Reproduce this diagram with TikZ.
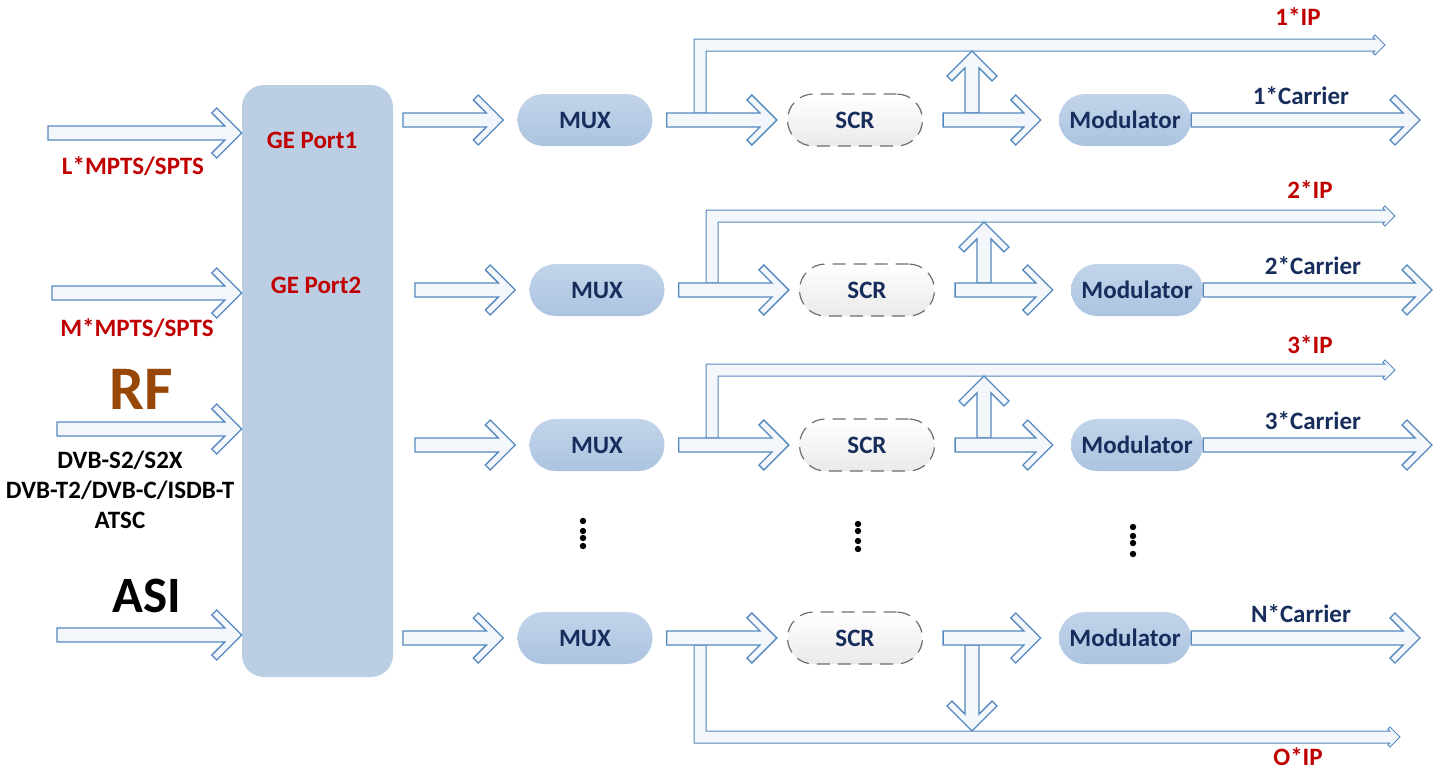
\documentclass[tikz,border=0pt]{standalone}
\usepackage{fontspec}
\setmainfont{Carlito}
\usetikzlibrary{calc}

\definecolor{arredge}{RGB}{84,136,190}
\definecolor{arrfill}{RGB}{243,247,252}
\definecolor{geblue}{RGB}{187,206,228}
\definecolor{muxtop}{RGB}{194,212,234}
\definecolor{muxbot}{RGB}{172,196,224}
\definecolor{scredge}{RGB}{110,110,110}
\definecolor{scrbot}{RGB}{234,234,234}
\definecolor{lblred}{RGB}{192,0,0}
\definecolor{navytxt}{RGB}{23,45,92}
\definecolor{rfbrown}{RGB}{152,72,6}

\newcommand{\boxfont}{\bfseries\fontsize{25}{29}\selectfont}
% one corner of a fat arrow: along, across
\newcommand{\fatpt}[2]{({\x1+(#1)*\n1-(#2)*\n2},{\y1+(#1)*\n2+(#2)*\n1})}

\tikzset{
  fat/.style={draw=arredge, fill=arrfill, line width=1.3pt,
    to path={let \p1=(\tikztostart), \p2=(\tikztotarget),
      \n3={veclen(\x2-\x1,\y2-\y1)}, \n1={(\x2-\x1)/\n3}, \n2={(\y2-\y1)/\n3} in
      \fatpt{0}{7} -- \fatpt{\n3-16.9}{7} -- \fatpt{\n3-29.95}{20.05} -- \fatpt{\n3-25}{25}
      -- \fatpt{\n3}{0} -- \fatpt{\n3-25}{-25} -- \fatpt{\n3-29.95}{-20.05}
      -- \fatpt{\n3-16.9}{-7} -- \fatpt{0}{-7} -- cycle}},
  ipband/.style={draw=arredge, fill=arrfill, line width=1pt,
    to path={let \p1=(\tikztostart), \p2=(\tikztotarget), \n1={(\y2>\y1) ? 1 : -1} in
      ({\x1-6},\y1) -- ({\x1-6},{\y2+(\n1)*6}) -- ({\x2-10.24},{\y2+(\n1)*6})
      -- ({\x2-12.12},{\y2+(\n1)*7.88}) -- ({\x2-10},{\y2+(\n1)*10}) -- (\x2,\y2)
      -- ({\x2-10},{\y2-(\n1)*10}) -- ({\x2-12.12},{\y2-(\n1)*7.88})
      -- ({\x2-10.24},{\y2-(\n1)*6}) -- ({\x1+6},{\y2-(\n1)*6}) -- ({\x1+6},\y1) -- cycle}},
  pill/.style={rectangle, rounded corners=26pt, minimum width=135pt, minimum height=52pt,
    inner sep=0pt, text=navytxt, font=\boxfont},
  muxbox/.style={pill, top color=muxtop, bottom color=muxbot},
  scrbox/.style={pill, draw=scredge, line width=1.2pt, dash pattern=on 13pt off 8pt,
    top color=white, bottom color=scrbot},
  redlbl/.style={text=lblred, font=\boxfont},
  navylbl/.style={text=navytxt, font=\boxfont},
}

\begin{document}
\begin{tikzpicture}[x=1pt,y=-1pt]
\useasboundingbox (0,0) rectangle (1440,771);

% GE ports
\node[fill=geblue, rounded corners=22pt, minimum width=151pt, minimum height=592pt] (ge) at (317.5,381) {};
\node[redlbl] (port1) at (312,140) {GE Port1};
\node[redlbl] (port2) at (316,285) {GE Port2};

% inputs
\coordinate (src1) at (48,133);
\coordinate (src2) at (52,293);
\coordinate (src3) at (57,429);
\coordinate (src4) at (57,635);
\foreach \s in {1,...,4} \draw[fat] (src\s) to (src\s -| ge.west);
\node[redlbl] (lts) at (133,166) {L*MPTS/SPTS};
\node[redlbl] (mts) at (137,328) {M*MPTS/SPTS};
\node[text=rfbrown, font=\bfseries\fontsize{62}{62}\selectfont] (rf) at (141,389) {RF};
\node[font=\bfseries\fontsize{25}{30}\selectfont, align=center] (dvb) at (120,490) {DVB-S2/S2X\\DVB-T2/DVB-C/ISDB-T\\ATSC};
\node[font=\bfseries\fontsize{51}{51}\selectfont] (asi) at (147,596) {ASI};

% channels
\foreach \row/\ry/\dx/\band/\tip/\iply/\ipname/\carr in {1/120/0/45/1385/17/1*IP/1, 2/290/12/216/1395/190/2*IP/2, 3/445/12/370/1395/345/3*IP/3, 4/638/0/737/1400/757/O*IP/N}{
  \pgfmathsetmacro\sg{\band<\ry ? -1 : 1}
  \pgfmathsetmacro\ya{\ry+\sg*7}
  \pgfmathsetmacro\yb{\band-\sg*6}
  \node[muxbox] (mux\row) at (585+\dx,\ry) {MUX};
  \node[scrbox] (scr\row) at (855+\dx,\ry) {SCR};
  \node[muxbox, minimum width=132pt] (mod\row) at (1125+\dx,\ry) {Modulator};
  \coordinate (gein\row) at (403+\dx,\ry);
  \coordinate (br\row) at (700+\dx,\ya);
  \coordinate (ip\row) at (\tip,\band);
  \coordinate (up\row) at (972+\dx,\ya);
  \coordinate (upend\row) at (972+\dx,\yb);
  \coordinate (out\row) at (1420+\dx,\ry);
  \draw[ipband] (br\row) to (ip\row);
  \draw[fat] (up\row) to (upend\row);
  \draw[fat] (gein\row) to ([xshift=-14pt]mux\row.west);
  \draw[fat] ([xshift=14pt]mux\row.east) to ([xshift=-10pt]scr\row.west);
  \draw[fat] ([xshift=20pt]scr\row.east) to ([xshift=-18pt]mod\row.west);
  \draw[fat] (mod\row.east) to (out\row);
  \node[navylbl] (car\row) at (1301+\dx,\ry-24) {\carr*Carrier};
  \node[redlbl] (iplbl\row) at (1298+\dx,\iply) {\ipname};
}

% vertical dots
\foreach \dotx/\dotys in {583/{521,531,538,546}, 858/{524,531,541,549}, 1133/{527,536,543,554}}
  \foreach \dy in \dotys \fill (\dotx,\dy) circle[radius=3.2pt];
\end{tikzpicture}
\end{document}
